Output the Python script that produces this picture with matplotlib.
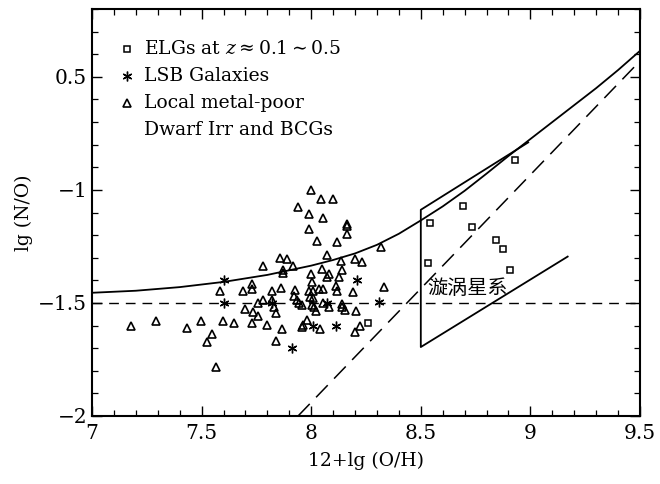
import matplotlib
matplotlib.use("Agg")
import matplotlib.pyplot as plt
import numpy as np
from matplotlib.ticker import MultipleLocator

plt.rcParams['font.family'] = ['DejaVu Serif']
plt.rcParams['mathtext.fontset'] = 'dejavuserif'

# local metal-poor dwarf irregulars and BCGs (triangles)
tri_x = [7.18, 7.29, 7.435, 7.495, 7.548, 7.526, 7.566, 7.596, 7.647, 7.584,
         7.688, 7.731, 7.731, 7.778, 7.698, 7.734, 7.759, 7.73, 7.80, 7.781,
         7.759, 7.82, 7.819, 7.828, 7.841, 7.86, 7.869, 7.839, 7.859, 7.888,
         7.873, 7.870, 7.915, 7.925, 7.92, 7.937, 7.944, 7.96, 7.964, 7.96,
         7.979, 7.99, 7.995, 8.002, 7.999, 8.01, 8.005, 8.02, 8.013, 8.042,
         8.037, 8.054, 8.048, 8.071, 8.071, 8.083, 8.08, 8.055, 8.112, 8.119,
         8.128, 8.139, 8.137, 8.139, 8.141, 8.154, 8.19, 8.199, 8.23, 8.205,
         8.221, 8.20, 8.318, 8.33, 7.997, 8.045, 8.098, 7.938, 7.989, 8.052,
         7.99, 8.162, 8.162, 8.164, 8.025, 8.116, 8.007]
tri_y = [-1.60, -1.58, -1.61, -1.58, -1.638, -1.671, -1.784, -1.58, -1.587, -1.447,
         -1.447, -1.415, -1.438, -1.336, -1.525, -1.538, -1.556, -1.587, -1.597, -1.487,
         -1.501, -1.487, -1.447, -1.516, -1.546, -1.436, -1.615, -1.667, -1.302, -1.304,
         -1.354, -1.366, -1.335, -1.442, -1.468, -1.487, -1.501, -1.509, -1.597, -1.605,
         -1.577, -1.447, -1.475, -1.406, -1.374, -1.477, -1.511, -1.535, -1.518, -1.615,
         -1.437, -1.437, -1.351, -1.288, -1.386, -1.373, -1.516, -1.499, -1.427, -1.447,
         -1.384, -1.354, -1.313, -1.505, -1.516, -1.531, -1.45, -1.305, -1.321, -1.537,
         -1.601, -1.627, -1.253, -1.429, -1.00, -1.042, -1.042, -1.074, -1.107, -1.125,
         -1.173, -1.152, -1.158, -1.193, -1.225, -1.23, -1.447]

# LSB galaxies (asterisks)
lsb_x = [7.604, 7.604, 7.82, 8.07, 8.207, 8.311, 8.01, 8.112, 7.911]
lsb_y = [-1.398, -1.501, -1.50, -1.50, -1.398, -1.497, -1.600, -1.600, -1.698]

# ELGs at z ~ 0.1-0.5 (squares)
elg_x = [8.542, 8.691, 8.732, 8.843, 8.876, 8.907, 8.531, 8.93, 8.261]
elg_y = [-1.145, -1.071, -1.162, -1.221, -1.262, -1.354, -1.324, -0.867, -1.587]

# primary + secondary nitrogen curve
curve_x = [7.0, 7.2, 7.4, 7.6, 7.8, 8.0, 8.1, 8.2, 8.3, 8.4, 8.5,
           8.6, 8.7, 8.8, 8.9, 9.0, 9.1, 9.2, 9.3, 9.4, 9.5]
curve_y = [-1.455, -1.446, -1.43, -1.407, -1.376, -1.335, -1.31, -1.281, -1.243, -1.194, -1.135,
           -1.073, -1.004, -0.928, -0.85, -0.775, -0.7, -0.625, -0.55, -0.47, -0.385]

# secondary-only dashed line and primary plateau
diag_x = [7.94, 9.5]
diag_y = [-2.0, -0.43]
flat_x = [7.0, 9.5]
flat_y = [-1.5, -1.5]

# spiral galaxy region
box_x = [8.99, 8.5, 8.5, 9.17]
box_y = [-0.79, -1.088, -1.695, -1.295]

fig = plt.figure(figsize=(6.6, 4.84), dpi=100)
ax = fig.add_axes([0.1394, 0.1405, 0.8303, 0.8409])

ax.plot(curve_x, curve_y, color='black', lw=1.3)
ax.plot(diag_x, diag_y, color='black', lw=1.1, dashes=(11, 6))
ax.plot(flat_x, flat_y, color='black', lw=1.0, dashes=(7, 5))
ax.plot(box_x, box_y, color='black', lw=1.3)

ax.plot(tri_x, tri_y, ls='none', marker='^', ms=6, mfc='none', mec='black', mew=1.2)
ax.plot(lsb_x, lsb_y, ls='none', marker=(6, 2, 0), ms=7, color='black', mew=1.0)
ax.plot(elg_x, elg_y, ls='none', marker='s', ms=5, mfc='none', mec='black', mew=1.1)

ax.text(8.53, -1.438, '漩涡星系', family=['Noto Sans CJK SC'], fontsize=14.5,
        va='center', ha='left')

# legend drawn by hand
lx, tx = 0.064, 0.095
rows = [0.902, 0.835, 0.769, 0.703]
ax.plot([lx], [rows[0]], transform=ax.transAxes, marker='s', ms=5, mfc='none',
        mec='black', mew=1.1, clip_on=False)
ax.plot([lx], [rows[1]], transform=ax.transAxes, marker=(6, 2, 0), ms=7,
        color='black', mew=1.0, clip_on=False)
ax.plot([lx], [rows[2]], transform=ax.transAxes, marker='^', ms=6, mfc='none',
        mec='black', mew=1.2, clip_on=False)
fs = 13.5
ax.text(tx, rows[0], r'ELGs at $z \approx 0.1 \sim 0.5$', transform=ax.transAxes,
        fontsize=fs, va='center')
ax.text(tx, rows[1], 'LSB Galaxies', transform=ax.transAxes, fontsize=fs, va='center')
ax.text(tx, rows[2], 'Local metal-poor', transform=ax.transAxes, fontsize=fs, va='center')
ax.text(tx, rows[3], 'Dwarf Irr and BCGs', transform=ax.transAxes, fontsize=fs, va='center')

ax.set_xlim(7, 9.5)
ax.set_ylim(-2, -0.2)
ax.set_xticks([7, 7.5, 8, 8.5, 9, 9.5])
ax.set_xticklabels(['7', '7.5', '8', '8.5', '9', '9.5'])
ax.set_yticks([-2, -1.5, -1, -0.5])
ax.set_yticklabels(['\u22122', '\u22121.5', '\u22121', '0.5'])
ax.xaxis.set_minor_locator(MultipleLocator(0.1))
ax.yaxis.set_minor_locator(MultipleLocator(0.1))
ax.tick_params(which='both', direction='in', top=True, right=True, labelsize=14.5)
ax.tick_params(which='major', length=7, width=1.0)
ax.tick_params(which='minor', length=4.5, width=0.9)
ax.tick_params(axis='x', pad=6)
for s in ax.spines.values():
    s.set_linewidth(1.5)

ax.set_xlabel('12+lg (O/H)', fontsize=13.5, labelpad=6)
ax.set_ylabel('lg (N/O)', fontsize=13.5, labelpad=4)

fig.savefig('out.png', dpi=100)
